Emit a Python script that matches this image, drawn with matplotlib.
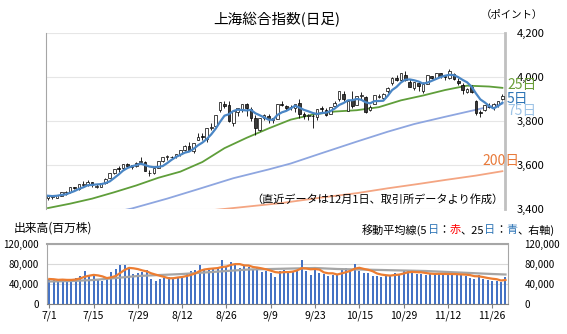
import numpy as np
import pandas as pd
import matplotlib
matplotlib.use('Agg')
import matplotlib.pyplot as plt
from matplotlib.ticker import FuncFormatter

plt.rcParams['font.family'] = ['Noto Sans CJK JP', 'DejaVu Sans']

# trading days 7/1 - 12/1
dates = ['7/1', '7/2', '7/3', '7/4', '7/7', '7/8', '7/9', '7/10', '7/11', '7/14',
         '7/15', '7/16', '7/17', '7/18', '7/21', '7/22', '7/23', '7/24', '7/25', '7/28',
         '7/29', '7/30', '7/31', '8/1', '8/4', '8/5', '8/6', '8/7', '8/8', '8/11',
         '8/12', '8/13', '8/14', '8/15', '8/18', '8/19', '8/20', '8/21', '8/22', '8/25',
         '8/26', '8/27', '8/28', '8/29', '9/1', '9/2', '9/3', '9/4', '9/5', '9/8',
         '9/9', '9/10', '9/11', '9/12', '9/15', '9/16', '9/17', '9/18', '9/19', '9/22',
         '9/23', '9/24', '9/25', '9/26', '9/29', '9/30', '10/9', '10/10', '10/13', '10/14',
         '10/15', '10/16', '10/17', '10/20', '10/21', '10/22', '10/23', '10/24', '10/27', '10/28',
         '10/29', '10/30', '10/31', '11/3', '11/4', '11/5', '11/6', '11/7', '11/10', '11/11',
         '11/12', '11/13', '11/14', '11/17', '11/18', '11/19', '11/20', '11/21', '11/24', '11/25',
         '11/26', '11/27', '11/28', '12/1']

open_ = [3446, 3454, 3450, 3458, 3468, 3474, 3497, 3490, 3509, 3506,
         3522, 3499, 3500, 3517, 3541, 3562, 3584, 3584, 3605, 3588,
         3595, 3612, 3613, 3562, 3563, 3585, 3615, 3635, 3636, 3638,
         3648, 3667, 3684, 3660, 3712, 3730, 3716, 3768, 3775, 3848,
         3876, 3872, 3790, 3840, 3855, 3878, 3855, 3814, 3760, 3812,
         3823, 3804, 3810, 3875, 3865, 3862, 3857, 3880, 3833, 3820,
         3822, 3815, 3860, 3849, 3831, 3866, 3897, 3924, 3846, 3895,
         3872, 3913, 3908, 3847, 3875, 3910, 3904, 3934, 3970, 3997,
         3987, 4008, 3978, 3948, 3970, 3936, 3968, 4002, 3995, 4016,
         4006, 3995, 4015, 3982, 3962, 3932, 3955, 3890, 3841, 3850,
         3866, 3864, 3870, 3897]
high = [3460, 3463, 3463, 3477, 3478, 3497, 3500, 3510, 3527, 3528,
        3523, 3512, 3517, 3538, 3560, 3582, 3595, 3605, 3608, 3600,
        3610, 3636, 3617, 3577, 3583, 3617, 3634, 3645, 3640, 3650,
        3667, 3688, 3704, 3698, 3745, 3746, 3766, 3788, 3826, 3884,
        3888, 3888, 3844, 3860, 3876, 3880, 3861, 3826, 3814, 3829,
        3830, 3814, 3876, 3890, 3870, 3870, 3877, 3899, 3840, 3830,
        3829, 3855, 3866, 3856, 3864, 3888, 3937, 3936, 3892, 3935,
        3913, 3929, 3915, 3870, 3917, 3924, 3925, 3952, 3999, 4010,
        4016, 4025, 3991, 3977, 3980, 3975, 4008, 4004, 4019, 4018,
        4010, 4034, 4018, 3995, 3971, 3951, 3965, 3893, 3848, 3873,
        3881, 3880, 3890, 3920]
low = [3440, 3445, 3448, 3455, 3462, 3472, 3487, 3485, 3497, 3502,
       3500, 3493, 3496, 3512, 3537, 3555, 3568, 3575, 3585, 3580,
       3590, 3610, 3570, 3550, 3555, 3583, 3610, 3620, 3625, 3630,
       3640, 3662, 3662, 3655, 3710, 3713, 3705, 3758, 3768, 3840,
       3860, 3795, 3776, 3820, 3840, 3820, 3800, 3736, 3755, 3802,
       3790, 3790, 3808, 3865, 3847, 3848, 3840, 3813, 3810, 3805,
       3766, 3805, 3840, 3822, 3830, 3864, 3890, 3891, 3846, 3860,
       3870, 3899, 3837, 3843, 3875, 3905, 3895, 3928, 3965, 3981,
       3982, 3979, 3952, 3940, 3936, 3928, 3968, 3990, 3990, 3993,
       3985, 3992, 3985, 3962, 3924, 3925, 3928, 3828, 3815, 3845,
       3860, 3850, 3862, 3895]
close = [3458, 3455, 3461, 3473, 3473, 3497, 3493, 3510, 3510, 3520,
         3505, 3503, 3516, 3534, 3560, 3582, 3582, 3605, 3594, 3598,
         3609, 3616, 3573, 3560, 3583, 3617, 3634, 3640, 3635, 3648,
         3665, 3684, 3666, 3697, 3728, 3727, 3766, 3771, 3826, 3884,
         3868, 3800, 3843, 3858, 3876, 3858, 3813, 3766, 3812, 3826,
         3807, 3812, 3875, 3871, 3860, 3861, 3876, 3831, 3820, 3828,
         3822, 3853, 3853, 3828, 3862, 3883, 3934, 3897, 3889, 3865,
         3912, 3916, 3839, 3864, 3917, 3914, 3922, 3950, 3996, 3988,
         4016, 3987, 3955, 3976, 3960, 3969, 4008, 3997, 4019, 4002,
         4000, 4029, 3990, 3972, 3939, 3946, 3931, 3835, 3836, 3870,
         3864, 3875, 3889, 3914]

# volume, million shares
volume = [50000, 49000, 46000, 50000, 46000, 50000, 53000, 57000, 67000, 56000,
          58000, 48000, 47000, 50000, 64000, 71000, 78000, 78000, 70000, 60000,
          63000, 65000, 68000, 51000, 47000, 51000, 53000, 55000, 52000, 54000,
          56000, 63000, 66000, 68000, 78000, 70000, 69000, 70000, 72000, 89000,
          75000, 85000, 78000, 72000, 76000, 74000, 70000, 72000, 64000, 66000,
          62000, 55000, 67000, 69000, 66000, 67000, 68000, 88000, 66000, 58000,
          70000, 62000, 60000, 57000, 58000, 58000, 73000, 72000, 71000, 80000,
          66000, 62000, 63000, 57000, 57000, 55000, 56000, 59000, 63000, 61000,
          66000, 68000, 63000, 60000, 60000, 59000, 62000, 60000, 61000, 59000,
          58000, 62000, 59000, 58000, 57000, 53000, 51000, 58000, 50000, 48000,
          46000, 46000, 45000, 55000]

# longer moving averages, read at a few trading-day positions
ma25_day = [0, 5, 10, 15, 20, 25, 30, 35, 40, 45, 50, 55, 60, 65, 70, 75, 80, 85, 90, 95, 100, 103]
ma25_val = [3402, 3422, 3445, 3474, 3505, 3540, 3568, 3612, 3675, 3722, 3765, 3805, 3828, 3842,
            3848, 3862, 3893, 3915, 3940, 3960, 3956, 3950]
ma75_day = [0, 10, 19, 27, 34, 42, 50, 55, 62, 70, 77, 83, 90, 97, 103]
ma75_val = [3330, 3362, 3400, 3445, 3488, 3538, 3578, 3605, 3652, 3705, 3750, 3785, 3818, 3850, 3878]
ma200_day = [30, 41, 53, 62, 70, 77, 84, 90, 97, 103]
ma200_val = [3378, 3400, 3425, 3450, 3470, 3492, 3512, 3530, 3550, 3570]
vma25_day = [0, 5, 10, 15, 20, 25, 30, 35, 40, 45, 50, 55, 60, 65, 70, 75, 80, 85, 90, 95, 100, 103]
vma25_val = [45000, 46000, 48000, 52000, 56000, 58000, 60000, 63000, 66000, 69000, 70000, 71000,
             72000, 70000, 69000, 68000, 67000, 66000, 64000, 62000, 60000, 59000]

tick_pos = [0, 10, 20, 30, 40, 50, 60, 70, 80, 90, 100]

df = pd.DataFrame({'open': open_, 'high': high, 'low': low, 'close': close, 'volume': volume})
x = np.arange(len(df))
ma5 = df['close'].rolling(5, min_periods=1).mean()
vma5 = df['volume'].rolling(5, min_periods=1).mean()

W, H = 567, 334
fig = plt.figure(figsize=(W / 100, H / 100), dpi=100)
ax = fig.add_axes([45.8 / W, 1 - 208.5 / H, 458.8 / W, 175.5 / H])
axv = fig.add_axes([47.1 / W, 1 - 304 / H, 460.6 / W, 60 / H])

# candles
up = df['close'] >= df['open']
ax.vlines(x, df['low'], df['high'], color='black', lw=0.6, zorder=2)
body = (df['close'] - df['open']).abs().clip(lower=1.5)
bottom = df[['open', 'close']].min(axis=1)
ax.bar(x, body, bottom=bottom, width=0.6, color=np.where(up, 'white', '#3a3a3a'),
       edgecolor='black', lw=0.5, zorder=3)

ax.plot(ma200_day, ma200_val, color='#f4a582', lw=1.3, zorder=1)
ax.plot(ma75_day, ma75_val, color='#8ea6e0', lw=1.3, zorder=1)
ax.plot(ma25_day, ma25_val, color='#5f9e3a', lw=1.3, zorder=1)
ax.plot(x, ma5, color='#4a86c5', lw=1.6, zorder=4)

ax.set_xlim(-0.5, 103.5)
ax.set_ylim(3400, 4200)
ax.set_xticks([])
ax.yaxis.tick_right()
ax.set_yticks([3400, 3600, 3800, 4000, 4200])
ax.yaxis.set_major_formatter(FuncFormatter(lambda v, p: f'{int(v):,}'))
ax.tick_params(axis='y', length=0, pad=9, labelsize=8)
ax.grid(axis='y', color='#e6e6e6', lw=0.8)
ax.set_axisbelow(True)
for s in ['top', 'bottom']:
    ax.spines[s].set_visible(False)
ax.spines['left'].set_color('#a6a6a6')
ax.spines['right'].set_color('#c0c0c0')
ax.spines['right'].set_linewidth(2)

# volume
axv.bar(x, df['volume'], width=0.45, color='#4472c4', zorder=2)
axv.plot(vma25_day, vma25_val, color='#a5a5a5', lw=1.6, zorder=3)
axv.plot(x, vma5, color='#ed7d31', lw=1.6, zorder=4)
axv.set_xlim(-0.5, 103.5)
axv.set_ylim(0, 120000)
axv.set_yticks([0, 40000, 80000, 120000])
fmt = FuncFormatter(lambda v, p: f'{int(v):,}')
axv.yaxis.set_major_formatter(fmt)
axv.tick_params(axis='y', length=0, pad=6, labelsize=7)
axv.set_xticks(tick_pos)
axv.set_xticklabels([dates[i] for i in tick_pos])
axv.tick_params(axis='x', length=3, color='#808080', labelsize=7.5, pad=2)
axv.grid(axis='y', color='#d9d9d9', lw=0.8)
axv.set_axisbelow(True)
axv.spines['top'].set_color('#a6a6a6')
axv.spines['top'].set_linewidth(1.5)
axv.spines['left'].set_color('#a6a6a6')
axv.spines['right'].set_color('#a6a6a6')
axv.spines['bottom'].set_color('#808080')

axr = axv.twinx()
axr.set_ylim(0, 120000)
axr.set_yticks([0, 40000, 80000, 120000])
axr.yaxis.set_major_formatter(fmt)
axr.tick_params(axis='y', length=0, pad=12, labelsize=7)
for s in axr.spines.values():
    s.set_visible(False)

# texts
fig.text(277 / W, 1 - 20 / H, '上海総合指数(日足)', ha='center', va='center', fontsize=10.5)
fig.text(512 / W, 1 - 15 / H, '（ポイント）', ha='center', va='center', fontsize=7.5)
fig.text(251 / W, 1 - 199 / H, '（直近データは12月1日、取引所データより作成）',
         ha='left', va='center', fontsize=8)
fig.text(507 / W, 1 - 85 / H, '25日', color='#6a9e38', fontsize=10, ha='left', va='center')
fig.text(507 / W, 1 - 99 / H, '5日', color='#2e75b6', fontsize=10, ha='left', va='center')
fig.text(507 / W, 1 - 111 / H, '75日', color='#9dc3e6', fontsize=10, ha='left', va='center')
fig.text(482 / W, 1 - 161 / H, '200日', color='#e87a3a', fontsize=10, ha='left', va='center')
fig.text(14 / W, 1 - 228 / H, '出来高(百万株)', ha='left', va='center', fontsize=8.5)

# legend line with coloured words
renderer = fig.canvas.get_renderer()
pieces = [('移動平均線(5', 'black'), ('日', '#2e75b6'), ('：', 'black'), ('赤', 'red'),
          ('、25', 'black'), ('日', '#2e75b6'), ('：', 'black'), ('青', '#2e75b6'),
          ('、右軸)', 'black')]
xpos = 362 / W
for s, c in pieces:
    t = fig.text(xpos, 1 - 230 / H, s, color=c, ha='left', va='center', fontsize=8)
    xpos += t.get_window_extent(renderer).width / fig.bbox.width

fig.savefig('out.png', dpi=100)
